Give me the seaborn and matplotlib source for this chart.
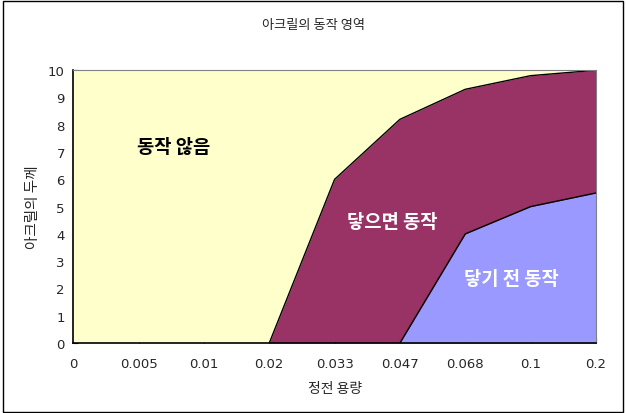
import numpy as np
import pandas as pd
import seaborn as sns
import matplotlib.pyplot as plt
from matplotlib.patches import Rectangle

# data
capacitance = ['0', '0.005', '0.01', '0.02', '0.033', '0.047', '0.068', '0.1', '0.2']
no_action = [10, 10, 10, 10, 10, 10, 10, 10, 10]
touch_action = [0, 0, 0, 0, 6.0, 8.2, 9.3, 9.8, 10]
pre_touch_action = [0, 0, 0, 0, 0, 0, 4.0, 5.0, 5.5]

df = pd.DataFrame({'cap': capacitance, 'no': no_action,
                   'touch': touch_action, 'pre': pre_touch_action})
df['pos'] = np.arange(len(df))

sns.set_style('white')
plt.rcParams['font.family'] = ['Noto Sans CJK KR', 'DejaVu Sans']

fig, ax = plt.subplots(figsize=(6.26, 4.14), dpi=100)
fig.subplots_adjust(left=0.117, right=0.952, top=0.828, bottom=0.169)

ax.fill_between(df['pos'], 0, df['no'], color='#FFFFCC', linewidth=0)
ax.fill_between(df['pos'], 0, df['touch'], color='#993366', linewidth=0)
ax.fill_between(df['pos'], 0, df['pre'], color='#9999FF', linewidth=0)

# boundary lines
m = df['pos'] >= 3
sns.lineplot(x=df['pos'][m], y=df['touch'][m], color='black', lw=1, ax=ax)
m = df['pos'] >= 5
sns.lineplot(x=df['pos'][m], y=df['pre'][m], color='black', lw=1, ax=ax)

ax.set_xlim(0, len(df) - 1)
ax.set_ylim(0, 10)
ax.set_xticks(df['pos'])
ax.set_xticklabels(df['cap'], fontfamily='DejaVu Sans', fontsize=9.5)
ax.set_yticks(range(0, 11))
ax.set_yticklabels([str(v) for v in range(0, 11)], fontfamily='DejaVu Sans', fontsize=9.5)
ax.tick_params(axis='both', length=3.5, width=0.8, direction='in', color='black',
               bottom=True, left=True)
ax.tick_params(axis='x', pad=10)
ax.tick_params(axis='y', pad=6)

for s in ['left', 'bottom']:
    ax.spines[s].set_color('black')
    ax.spines[s].set_linewidth(1.2)
for s in ['top', 'right']:
    ax.spines[s].set_color('#808080')
    ax.spines[s].set_linewidth(0.8)

ax.set_xlabel('정전 용량', fontsize=10, labelpad=8)
ax.set_ylabel('아크릴의 두께', fontsize=10.5, labelpad=6)
fig.text(0.5, 0.938, '아크릴의 동작 영역', ha='center', va='center', fontsize=9.5)

ax.text(1.53, 7.2, '동작 않음', ha='center', va='center', fontsize=13.5,
        fontweight='bold', color='black')
ax.text(4.88, 4.47, '닿으면 동작', ha='center', va='center', fontsize=13.5,
        fontweight='bold', color='white')
ax.text(6.71, 2.38, '닿기 전 동작', ha='center', va='center', fontsize=13.5,
        fontweight='bold', color='white')

fig.patches.append(Rectangle((0.004, 0.003), 0.992, 0.992, transform=fig.transFigure,
                             fill=False, edgecolor='black', linewidth=1))

fig.savefig('out.png', dpi=100)
